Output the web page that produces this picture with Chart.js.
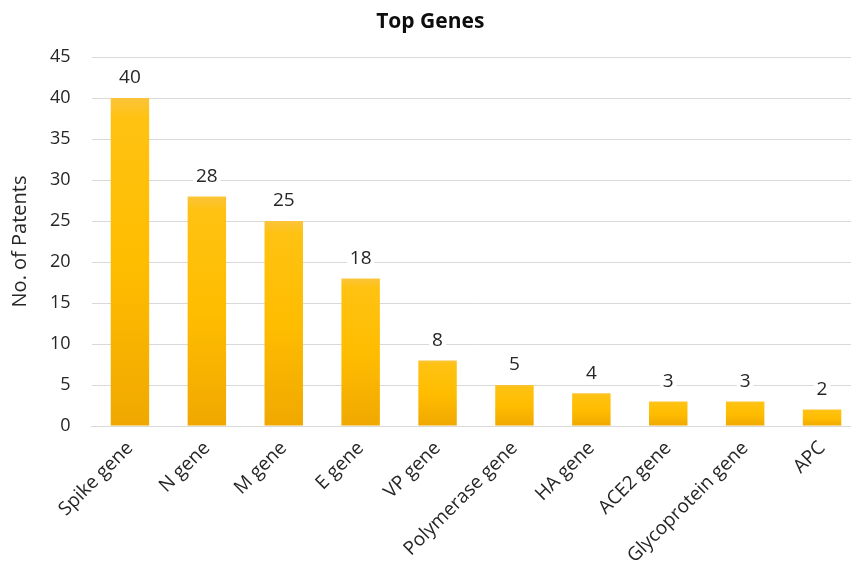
<!DOCTYPE html>
<html>
<head>
<meta charset="utf-8">
<script src="https://cdn.jsdelivr.net/npm/chart.js@4/dist/chart.umd.min.js"></script>
<style>
  html, body { margin: 0; padding: 0; background: #fff; overflow: hidden; }
  #wrap { position: relative; width: 898px; height: 575px; }
</style>
</head>
<body>
<div id="wrap"><canvas id="c"></canvas></div>
<script>
const categories = ["Spike gene", "N gene", "M gene", "E gene", "VP gene", "Polymerase gene", "HA gene", "ACE2 gene", "Glycoprotein gene", "APC"];
const patentCounts = [40, 28, 25, 18, 8, 5, 4, 3, 3, 2];
const chartTitle = "Top Genes";
const yAxisTitle = "No. of Patents";
const yMin = 0, yMax = 45, yStep = 5;

const FONT = "'Open Sans', sans-serif";
const TEXT = '#262626';

function barGradient(ctx) {
  const chart = ctx.chart;
  if (!chart.chartArea || ctx.dataIndex === undefined) return '#FFC000';
  const ys = chart.scales.y;
  const top = ys.getPixelForValue(ctx.raw);
  const bottom = ys.getPixelForValue(0);
  if (!isFinite(top) || !isFinite(bottom) || top === bottom) return '#FFC000';
  const g = chart.ctx.createLinearGradient(0, top, 0, bottom);
  g.addColorStop(0, '#FBC43A');
  g.addColorStop(0.06, '#FFC212');
  g.addColorStop(0.5, '#FFBD00');
  g.addColorStop(1, '#F0A800');
  return g;
}

const valueLabels = {
  id: 'valueLabels',
  afterDatasetsDraw(chart) {
    const c = chart.ctx;
    const meta = chart.getDatasetMeta(0);
    c.save();
    c.font = '19px ' + FONT;
    c.textAlign = 'center';
    c.textBaseline = 'middle';
    meta.data.forEach((bar, i) => {
      const txt = String(chart.data.datasets[0].data[i]);
      const w = c.measureText(txt).width;
      const y = bar.y - 20;
      c.fillStyle = '#ffffff';
      c.fillRect(bar.x - w / 2 - 3, y - 11, w + 6, 22);
      c.fillStyle = TEXT;
      c.fillText(txt, bar.x, y);
    });
    c.restore();
  }
};

new Chart(document.getElementById('c'), {
  type: 'bar',
  data: {
    labels: categories,
    datasets: [{
      data: patentCounts,
      backgroundColor: barGradient,
      borderWidth: 0,
      barPercentage: 0.5,
      categoryPercentage: 1.0
    }]
  },
  options: {
    responsive: true,
    maintainAspectRatio: false,
    animation: false,
    layout: { padding: { left: 0, right: 37.5, top: 0, bottom: 0 } },
    plugins: {
      legend: { display: false },
      tooltip: { enabled: false },
      title: {
        display: true,
        text: chartTitle,
        color: '#0d0d0d',
        font: { family: FONT, size: 21, weight: 'bold' },
        padding: { top: 9, bottom: 22.8 }
      }
    },
    scales: {
      x: {
        grid: { display: false, drawTicks: false },
        border: { display: true, color: '#D9D9D9', width: 1 },
        ticks: {
          color: TEXT,
          font: { family: FONT, size: 19 },
          minRotation: 45,
          maxRotation: 45,
          autoSkip: false,
          padding: 11
        },
        afterFit(scale) { scale.height = 149; }
      },
      y: {
        min: yMin,
        max: yMax,
        ticks: {
          stepSize: yStep,
          color: TEXT,
          font: { family: FONT, size: 18 },
          padding: 21
        },
        grid: { color: '#D9D9D9', lineWidth: 1, drawTicks: false },
        border: { display: false },
        title: {
          display: true,
          text: yAxisTitle,
          color: TEXT,
          font: { family: FONT, size: 20 },
          padding: { top: 8, bottom: 0 }
        },
        afterFit(scale) { scale.width = 91.5; }
      }
    }
  },
  plugins: [valueLabels]
});
</script>
</body>
</html>
